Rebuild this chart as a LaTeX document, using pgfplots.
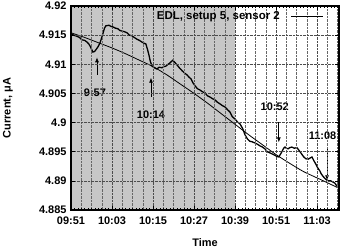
\documentclass[border=0pt]{standalone}
\usepackage{fontspec}
\setmainfont{Liberation Sans}
\usepackage{pgfplots}
\usepackage{pgfplotstable}
\pgfplotsset{compat=1.18}
\usetikzlibrary{arrows.meta}
\pgfplotstableread{
x y
0.0 4.9152
0.8 4.9150
1.75 4.9148
2.5 4.9146
3.2 4.9142
4.0 4.9141
4.7 4.9138
5.2 4.9135
5.6 4.9131
6.0 4.9126
6.4 4.9121
6.9 4.9122
7.3 4.9125
7.9 4.9130
8.5 4.9137
9.0 4.9146
9.4 4.9154
9.8 4.9162
10.2 4.9166
11.1 4.9167
11.7 4.9165
12.3 4.9164
13.0 4.9162
13.7 4.9161
14.3 4.9158
14.9 4.9157
15.6 4.9156
16.4 4.9154
17.1 4.9150
17.8 4.9149
18.5 4.9146
19.3 4.9143
20.0 4.9141
20.8 4.9138
21.4 4.9136
21.9 4.9135
22.4 4.9125
22.8 4.9116
23.2 4.9105
23.7 4.9097
24.4 4.9094
25.1 4.9092
25.8 4.9095
26.6 4.9094
27.2 4.9096
27.8 4.9097
28.4 4.9100
28.9 4.9102
29.4 4.9105
29.8 4.9107
30.4 4.9103
31.0 4.9099
31.7 4.9094
32.5 4.9089
33.2 4.9085
33.9 4.9082
34.5 4.9078
35.1 4.9075
35.7 4.9068
36.3 4.9063
37.0 4.9058
37.7 4.9056
38.4 4.9053
39.2 4.9051
39.9 4.9046
40.6 4.9044
41.4 4.9041
42.1 4.9039
42.8 4.9035
43.6 4.9032
44.3 4.9029
45.0 4.9027
45.8 4.9022
46.5 4.9018
47.2 4.9010
48.0 4.9006
48.7 4.9001
49.4 4.8998
50.2 4.8990
50.9 4.8979
51.6 4.8972
52.3 4.8968
53.0 4.8967
53.8 4.8965
54.5 4.8963
55.3 4.8960
56.0 4.8958
56.7 4.8955
57.4 4.8950
58.2 4.8948
58.9 4.8946
59.6 4.8944
60.2 4.8942
60.8 4.8941
61.3 4.8946
61.7 4.8950
62.2 4.8956
62.6 4.8958
63.0 4.8956
63.5 4.8955
64.0 4.8957
64.6 4.8958
65.3 4.8956
66.1 4.8957
66.6 4.8953
67.0 4.8950
67.6 4.8945
68.1 4.8941
68.7 4.8938
69.3 4.8937
69.9 4.8939
70.5 4.8941
71.0 4.8935
71.6 4.8929
72.2 4.8922
72.8 4.8917
73.2 4.8912
73.7 4.8908
74.3 4.8904
74.9 4.8901
75.5 4.8900
76.0 4.8900
76.6 4.8898
77.2 4.8896
77.8 4.8891
78.4 4.8888
}\noisydata
\pgfplotstableread{
x y
0 4.9154
4 4.9146
8 4.9137
12 4.9128
16 4.9118
20 4.9107
24 4.9096
28 4.9082
32 4.9066
36 4.9050
40 4.9033
44 4.9015
48 4.8997
52 4.8979
56 4.8962
60 4.8945
64 4.8930
68 4.8916
72 4.8905
76 4.8894
78.4 4.8887
}\fitdata
\begin{document}
\begin{tikzpicture}
\useasboundingbox (-71bp,-39bp) rectangle (271bp,210bp);
\begin{axis}[
  at={(0,0)}, anchor=south west,
  scale only axis, width=268bp, height=204bp,
  axis on top, clip=false,
  xmin=0, xmax=78.4, ymin=4.885, ymax=4.92,
  xtick={0,12,24,36,48,60,72},
  xticklabels={09:51,10:03,10:15,10:27,10:39,10:51,11:03},
  ytick={4.885,4.89,4.895,4.9,4.905,4.91,4.915,4.92},
  yticklabels={4.885,4.89,4.895,4.9,4.905,4.91,4.915,4.92},
  minor xtick={3,6,9,15,18,21,27,30,33,39,42,45,51,54,57,63,66,69,75,78},
  extra x ticks={1,2,4,5,7,8,10,11,13,14,16,17,19,20,22,23,25,26,28,29,31,32,34,35,37,38,40,41,43,44,46,47,49,50,52,53,55,56,58,59,61,62,64,65,67,68,70,71,73,74,76,77},
  extra x tick labels={},
  extra x tick style={grid=none, major tick length=2bp},
  xmajorgrids, ymajorgrids, xminorgrids,
  major grid style={black!70, densely dotted, line width=0.5pt},
  minor grid style={black!60, densely dotted, line width=0.4pt},
  tick align=inside, major tick length=4bp, minor tick length=2.5bp,
  every tick/.style={black, line width=0.6pt},
  axis line style={line width=1.2pt},
  tick label style={font=\bfseries\fontsize{11}{12}\selectfont},
  xticklabel style={yshift=-3bp},
  yticklabel style={xshift=-1bp},
  /pgf/number format/assume math mode=true,
  legend style={at={(rel axis cs:1,1)}, anchor=north east, draw=none, fill=none,
    font=\bfseries\fontsize{11.5}{12}\selectfont, xshift=-12bp, yshift=-1bp},
  legend plot pos=right,
  legend image code/.code={\path (0bp,0bp); \draw[#1, line width=0.8pt] (9bp,0bp) -- (41bp,0bp);},
]
\addplot[fill=black!22, draw=none, forget plot]
  coordinates {(0,4.885) (48,4.885) (48,4.92) (0,4.92) (0,4.885)};
\addplot[black, line width=1.3pt] table[x=x,y=y] {\noisydata};
\addlegendentry{EDL, setup 5, sensor 2}
\addplot[black, line width=0.8pt, smooth, forget plot] table[x=x,y=y] {\fitdata};
\draw[-{Latex[length=5bp,width=4bp]}, line width=0.8pt] (axis cs:7.6,4.9082) -- (axis cs:7.6,4.9112);
\draw[-{Latex[length=5bp,width=4bp]}, line width=0.8pt] (axis cs:23.4,4.9044) -- (axis cs:23.4,4.9077);
\draw[-{Latex[length=5bp,width=4bp]}, line width=0.8pt] (axis cs:60.8,4.9001) -- (axis cs:60.8,4.8966);
\draw[-{Latex[length=5bp,width=4bp]}, line width=0.8pt] (axis cs:74.9,4.8958) -- (axis cs:74.9,4.8901);
\node[font=\bfseries\fontsize{11}{12}\selectfont] at (axis cs:7,4.9052) {9:57};
\node[font=\bfseries\fontsize{11}{12}\selectfont] at (axis cs:23.4,4.9013) {10:14};
\node[font=\bfseries\fontsize{11}{12}\selectfont] at (axis cs:59.6,4.9027) {10:52};
\node[font=\bfseries\fontsize{11}{12}\selectfont] at (axis cs:73.6,4.8977) {11:08};
\node[font=\bfseries\fontsize{11}{12}\selectfont] at (rel axis cs:0.5,0) [yshift=-33bp] {Time};
\node[font=\bfseries\fontsize{11}{12}\selectfont] at (rel axis cs:0,0.5) [xshift=-63bp, rotate=90] {Current, μA};
\end{axis}
\end{tikzpicture}
\end{document}
